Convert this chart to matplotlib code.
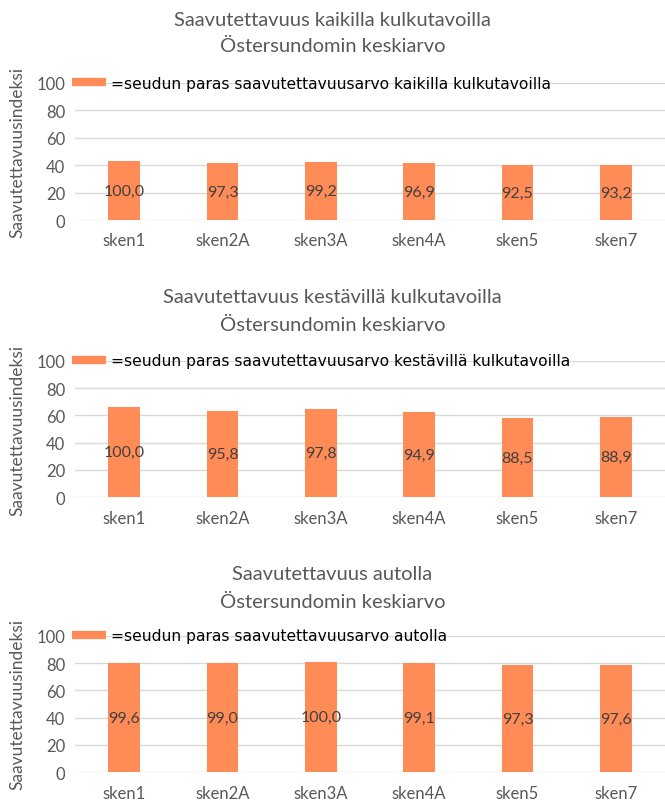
import matplotlib.pyplot as plt
from matplotlib.lines import Line2D

plt.rcParams["font.family"] = ["Lato", "DejaVu Sans"]

skenaariot = ["sken1", "sken2A", "sken3A", "sken4A", "sken5", "sken7"]

# saavutettavuusindeksi (pylvään korkeus)
kaikki_arvot = [42.8, 41.7, 42.5, 41.5, 39.8, 40.0]
kestavat_arvot = [65.8, 63.0, 64.4, 62.4, 58.2, 58.5]
auto_arvot = [80.2, 79.7, 80.5, 79.8, 78.3, 78.6]

# suhteessa seudun parhaaseen (pylvään tekstit)
kaikki_tekstit = ["100,0", "97,3", "99,2", "96,9", "92,5", "93,2"]
kestavat_tekstit = ["100,0", "95,8", "97,8", "94,9", "88,5", "88,9"]
auto_tekstit = ["99,6", "99,0", "100,0", "99,1", "97,3", "97,6"]

otsikot = ["Saavutettavuus kaikilla kulkutavoilla",
           "Saavutettavuus kestävillä kulkutavoilla",
           "Saavutettavuus autolla"]
selitteet = ["=seudun paras saavutettavuusarvo kaikilla kulkutavoilla",
             "=seudun paras saavutettavuusarvo kestävillä kulkutavoilla",
             "=seudun paras saavutettavuusarvo autolla"]
alaotsikko = "Östersundomin keskiarvo"

oranssi = "#FF8B56"
harmaa = "#595959"

fig = plt.figure(figsize=(6.65, 8.03), dpi=100)
W, H = 665, 803

# (akselin yläreuna px, alareuna px, otsikon rivit px)
paneelit = [(84, 221, 21, 46), (361.7, 498.3, 298, 325), (636.7, 773.3, 575, 602)]
arvot = [kaikki_arvot, kestavat_arvot, auto_arvot]
tekstit = [kaikki_tekstit, kestavat_tekstit, auto_tekstit]

for i, (ylä, ala, t1, t2) in enumerate(paneelit):
    ax = fig.add_axes([75 / W, 1 - ala / H, 590 / W, (ala - ylä) / H])
    x = range(len(skenaariot))
    palkit = ax.bar(x, arvot[i], width=0.32, color=oranssi, zorder=3)
    ax.bar_label(palkit, labels=tekstit[i], label_type="center",
                 fontsize=11.5, color="#404040")
    ax.set_ylim(0, 100)
    ax.set_xlim(-0.5, len(skenaariot) - 0.5)
    ax.set_yticks(range(0, 101, 20))
    ax.set_xticks(list(x))
    ax.set_xticklabels(skenaariot)
    ax.yaxis.grid(True, color="#D9D9D9", linewidth=1)
    ax.set_axisbelow(True)
    for s in ax.spines.values():
        s.set_visible(False)
    ax.tick_params(length=0, labelsize=12, colors=harmaa, pad=7)
    ax.tick_params(axis="x", pad=9)

    kahva = Line2D([], [], color=oranssi, linewidth=6, solid_capstyle="butt")
    ax.legend([kahva], [selitteet[i]], loc="center left",
              bbox_to_anchor=(-3 / 590, 1.0), frameon=False,
              prop={"family": "DejaVu Sans", "size": 11.2},
              handlelength=2.2, handletextpad=0.3, borderpad=0,
              borderaxespad=0)

    fig.text(0.5, 1 - t1 / H, otsikot[i], ha="center", va="center",
             fontsize=14.5, color=harmaa)
    fig.text(0.5, 1 - t2 / H, alaotsikko, ha="center", va="center",
             fontsize=14.5, color=harmaa)
    fig.text(17 / W, 1 - (ylä + ala) / 2 / H, "Saavutettavuusindeksi",
             rotation=90, ha="center", va="center", fontsize=12.5, color=harmaa)

fig.savefig("out.png", dpi=100)
